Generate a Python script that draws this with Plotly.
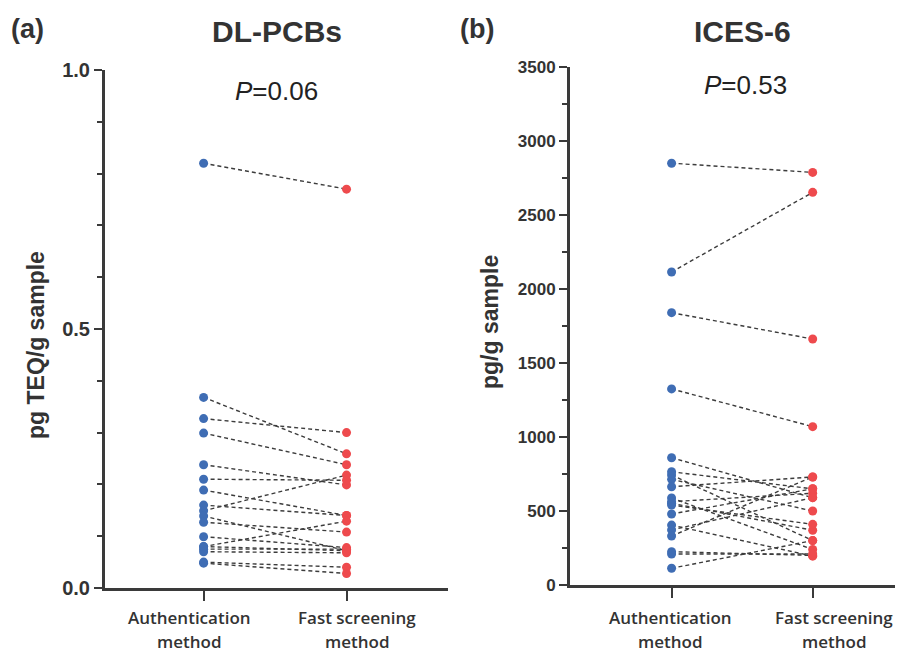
import plotly.graph_objects as go

categories = ["Authentication<br>method", "Fast screening<br>method"]

# DL-PCBs (pg TEQ/g sample), paired samples
dl_auth = [0.82, 0.368, 0.327, 0.299, 0.238, 0.210, 0.189, 0.160, 0.149, 0.139,
           0.127, 0.099, 0.080, 0.075, 0.070, 0.050, 0.048, 0.080]
dl_fast = [0.77, 0.259, 0.300, 0.238, 0.199, 0.208, 0.140, 0.140, 0.218, 0.072,
           0.108, 0.078, 0.129, 0.075, 0.068, 0.040, 0.028, 0.072]

# ICES-6 (pg/g sample), paired samples
ices_auth = [2850, 2115, 1840, 1325, 860, 765, 743, 714, 664, 588,
             563, 552, 540, 480, 405, 372, 331, 225, 209, 113]
ices_fast = [2788, 2653, 1662, 1070, 590, 650, 300, 500, 730, 240,
             620, 370, 410, 650, 195, 590, 730, 200, 210, 300]

dl_yticks = [0.0, 0.5, 1.0]
dl_yticklabels = ["0.0", "0.5", "1.0"]
ices_yticks = [0, 500, 1000, 1500, 2000, 2500, 3000, 3500]

BLUE = "#3F6DB4"
RED = "#EE4A4D"
AX = "#3a3a3a"
LINE = "#3c3c3c"

fig = go.Figure()


def add_panel(auth, fast, xa, ya):
    lx, ly = [], []
    for a, f in zip(auth, fast):
        lx += [0, 1, None]
        ly += [a, f, None]
    fig.add_trace(go.Scatter(x=lx, y=ly, mode="lines", xaxis=xa, yaxis=ya,
                             line=dict(color=LINE, width=1.4, dash="4px,3px"),
                             showlegend=False, hoverinfo="skip"))
    fig.add_trace(go.Scatter(x=[0] * len(auth), y=auth, mode="markers", xaxis=xa, yaxis=ya,
                             marker=dict(color=BLUE, size=9), showlegend=False))
    fig.add_trace(go.Scatter(x=[1] * len(fast), y=fast, mode="markers", xaxis=xa, yaxis=ya,
                             marker=dict(color=RED, size=9), showlegend=False))


add_panel(dl_auth, dl_fast, "x", "y")
add_panel(ices_auth, ices_fast, "x2", "y2")

# the page puts the figure 8px in from the top-left corner
OFF = 8
W, H = 903 - OFF, 653 - OFF


def px_x(p):
    return (p - OFF) / W


def px_y(p):
    return (H - (p - OFF)) / H


xcommon = dict(showline=True, linecolor=AX, linewidth=3, ticks="outside", ticklen=10,
               tickwidth=2, tickcolor=AX, tickvals=[0, 1], showticklabels=False,
               showgrid=False, zeroline=False, automargin=False)
ycommon = dict(showline=True, linecolor=AX, linewidth=3, ticks="outside", ticklen=8,
               tickwidth=2, tickcolor=AX, showgrid=False, zeroline=False, automargin=False)

fig.update_layout(
    width=W, height=H, margin=dict(l=0, r=0, t=0, b=0, pad=0, autoexpand=False),
    plot_bgcolor="white", paper_bgcolor="white",
    xaxis=dict(domain=[px_x(105), px_x(448)], range=[-0.69, 1.71], anchor="y", **xcommon),
    yaxis=dict(domain=[px_y(588), px_y(70)], range=[0, 1], anchor="x",
               tickvals=dl_yticks, ticktext=dl_yticklabels,
               tickfont=dict(family="Liberation Sans", size=20, color="#333333", weight="bold"),
               minor=dict(tickvals=[0.1, 0.2, 0.3, 0.4, 0.6, 0.7, 0.8, 0.9], ticklen=5,
                          tickwidth=2, tickcolor=AX, ticks="outside"),
               **ycommon),
    xaxis2=dict(domain=[px_x(570), 1.0], range=[-0.72, 1.64], anchor="y2", **xcommon),
    yaxis2=dict(domain=[px_y(585), px_y(67)], range=[0, 3500], anchor="x2",
                tickvals=ices_yticks,
                tickfont=dict(family="Liberation Sans", size=17, color="#333333", weight="bold"),
                minor=dict(tickvals=[250, 750, 1250, 1750, 2250, 2750, 3250], ticklen=5,
                           tickwidth=2, tickcolor=AX, ticks="outside"),
                **ycommon),
)

ann_font_title = dict(family="Liberation Sans", size=30, color="#333333", weight="bold")
cat_font = dict(family="Open Sans", size=17, color="#333333", weight=600)
anns = [
    dict(text="(a)", x=px_x(9), y=px_y(29), xanchor="left", yanchor="middle",
         font=dict(family="Liberation Sans", size=27, color="#333333", weight="bold")),
    dict(text="(b)", x=px_x(458), y=px_y(29), xanchor="left", yanchor="middle",
         font=dict(family="Liberation Sans", size=27, color="#333333", weight="bold")),
    dict(text="DL-PCBs", x=px_x(277), y=px_y(31), xanchor="center", yanchor="middle",
         font=ann_font_title),
    dict(text="ICES-6", x=px_x(742), y=px_y(31), xanchor="center", yanchor="middle",
         font=ann_font_title),
    dict(text="<i>P</i>=0.06", x=px_x(276), y=px_y(91), xanchor="center", yanchor="middle",
         font=dict(family="Liberation Sans", size=26, color="#222222")),
    dict(text="<i>P</i>=0.53", x=px_x(745), y=px_y(85), xanchor="center", yanchor="middle",
         font=dict(family="Liberation Sans", size=26, color="#222222")),
    dict(text="pg TEQ/g sample", x=px_x(36), y=px_y(345), xanchor="center", yanchor="middle",
         textangle=-90,
         font=dict(family="Liberation Sans", size=23, color="#333333", weight="bold")),
    dict(text="pg/g sample", x=px_x(490), y=px_y(322), xanchor="center", yanchor="middle",
         textangle=-90,
         font=dict(family="Liberation Sans", size=23, color="#333333", weight="bold")),
]
# category labels under the x axes (one annotation per text line)
cat_centers = [(189, 357), (670, 834)]
for centers in cat_centers:
    for cx, cat in zip(centers, categories):
        for line_text, ly in zip(cat.split("<br>"), (617, 641)):
            anns.append(dict(text=line_text, x=px_x(cx), y=px_y(ly), xanchor="center",
                             yanchor="middle", font=cat_font))
for a in anns:
    a.update(xref="paper", yref="paper", showarrow=False)
fig.update_layout(annotations=anns)

fig.write_html("out.html")
